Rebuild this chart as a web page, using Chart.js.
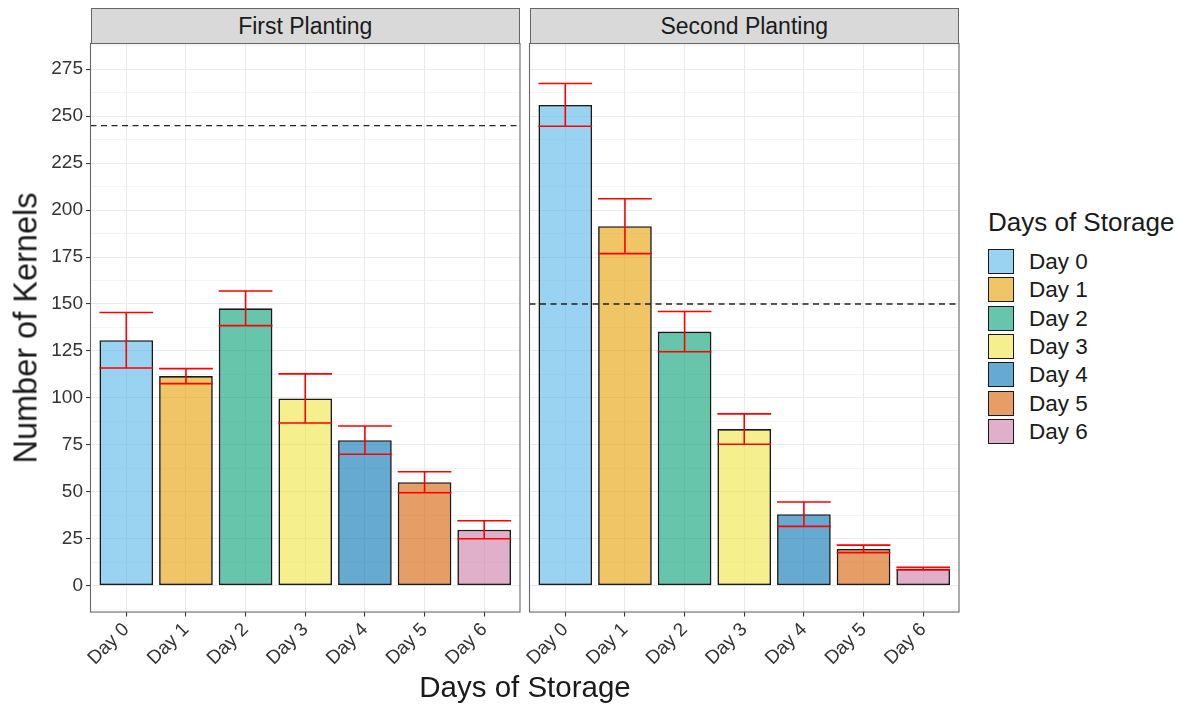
<!DOCTYPE html>
<html>
<head>
<meta charset="utf-8">
<script src="https://cdn.jsdelivr.net/npm/chart.js@4.4.1/dist/chart.umd.min.js"></script>
<style>
  html, body { margin: 0; padding: 0; background: #fff; }
  body { width: 1179px; height: 704px; position: relative; overflow: hidden;
         font-family: "Liberation Sans", Arial, Helvetica, sans-serif; color: #1a1a1a; }
  canvas { position: absolute; top: 0; }
  .strip { position: absolute; top: 8px; height: 35.5px; box-sizing: border-box;
           background: #d9d9d9; border: 1px solid #666; font-size: 23px;
           text-align: center; line-height: 34px; color: #1a1a1a; }
  .ytitle { position: absolute; left: 26px; top: 328px; font-size: 32.5px; white-space: nowrap;
            transform: translate(-50%, -50%) rotate(-90deg); }
  .xtitle { position: absolute; left: 525px; top: 687px; font-size: 29.5px; white-space: nowrap;
            transform: translate(-50%, -50%); }
  #legend { position: absolute; left: 988px; top: 207px; }
  #legend .ltitle { font-size: 26px; line-height: 30px; white-space: nowrap; }
  #legend .row { position: relative; height: 28.33px; }
  #legend .key { position: absolute; left: 0; top: 12px; width: 26px; height: 25px; box-sizing: border-box;
                 border: 1.4px solid #1a1a1a; }
  #legend .lab { position: absolute; left: 41px; top: 12px; line-height: 25px; font-size: 22.5px; white-space: nowrap; }
</style>
</head>
<body>
<canvas id="firstChart" width="525" height="704" style="left:0px"></canvas>
<canvas id="secondChart" width="440" height="704" style="left:525px"></canvas>
<div class="strip" style="left:90.5px; width:429.5px;">First Planting</div>
<div class="strip" style="left:529.5px; width:429.5px;">Second Planting</div>
<div class="ytitle">Number of Kernels</div>
<div class="xtitle">Days of Storage</div>
<div id="legend"></div>

<script>
// categories
const days = ['Day 0', 'Day 1', 'Day 2', 'Day 3', 'Day 4', 'Day 5', 'Day 6'];

// first planting: mean and error half-width
const firstMeans = [130.7, 111.6, 147.7, 99.7, 77.5, 55.1, 29.8];
const firstErr   = [14.8, 4.0, 9.2, 13.1, 7.5, 5.6, 4.8];

// second planting
const secondMeans = [256.0, 191.4, 135.3, 83.4, 38.1, 19.6, 9.1];
const secondErr   = [11.4, 14.6, 10.7, 8.1, 6.5, 2.0, 0.7];

// dashed reference lines per panel
const firstRef = 245;
const secondRef = 150;

// axis ticks
const yMajor = [0, 25, 50, 75, 100, 125, 150, 175, 200, 225, 250, 275];
const yMinor = [-12.5, 12.5, 37.5, 62.5, 87.5, 112.5, 137.5, 162.5, 187.5, 212.5, 237.5, 262.5, 287.5];

const dayColors = ['#56B4E9', '#E69F00', '#009E73', '#F0E442', '#0072B2', '#D55E00', '#CC79A7'];

function fade(hex, a) {
    const r = parseInt(hex.slice(1, 3), 16), g = parseInt(hex.slice(3, 5), 16), b = parseInt(hex.slice(5, 7), 16);
    return 'rgba(' + r + ',' + g + ',' + b + ',' + a + ')';
}
const fills = dayColors.map(c => fade(c, 0.6));

// legend
const legendDiv = document.getElementById('legend');
let html = '<div class="ltitle">Days of Storage</div>';
days.forEach((d, i) => {
    html += '<div class="row"><div class="key" style="background:' + fills[i] + '"></div><div class="lab">' + d + '</div></div>';
});
legendDiv.innerHTML = html;

const isMajor = v => yMajor.includes(v);

// error bars, reference line and panel border
const panelPlugin = {
    id: 'panelExtras',
    afterDatasetsDraw(chart, args, opts) {
        const ctx = chart.ctx;
        const xs = chart.scales.x, ys = chart.scales.y;
        const meta = chart.getDatasetMeta(0);
        const area = chart.chartArea;

        ctx.save();
        ctx.beginPath();
        ctx.rect(area.left, area.top, area.right - area.left, area.bottom - area.top);
        ctx.clip();

        // dashed line
        const yRef = ys.getPixelForValue(opts.ref);
        ctx.strokeStyle = '#222';
        ctx.lineWidth = 1.3;
        ctx.setLineDash([6, 4.5]);
        ctx.beginPath();
        ctx.moveTo(area.left, yRef);
        ctx.lineTo(area.right, yRef);
        ctx.stroke();
        ctx.setLineDash([]);

        // error bars
        ctx.strokeStyle = '#ff0000';
        ctx.lineWidth = 1.6;
        opts.means.forEach((m, i) => {
            const x = xs.getPixelForValue(i);
            const hw = meta.data[i].width / 2;
            const yHi = ys.getPixelForValue(m + opts.err[i]);
            const yLo = ys.getPixelForValue(m - opts.err[i]);
            ctx.beginPath();
            ctx.moveTo(x - hw, yHi); ctx.lineTo(x + hw, yHi);
            ctx.moveTo(x, yHi); ctx.lineTo(x, yLo);
            ctx.moveTo(x - hw, yLo); ctx.lineTo(x + hw, yLo);
            ctx.stroke();
        });
        ctx.restore();

        // panel border
        ctx.save();
        ctx.strokeStyle = '#666';
        ctx.lineWidth = 1.1;
        ctx.strokeRect(area.left, area.top, area.right - area.left, area.bottom - area.top);
        ctx.restore();
    }
};

function makePanel(canvasId, means, err, ref, showY, padLeft, padRight, yWidth) {
    const ctx = document.getElementById(canvasId).getContext('2d');
    return new Chart(ctx, {
        type: 'bar',
        data: {
            labels: days,
            datasets: [{
                data: means.map((v, i) => ({ x: i, y: v })),
                backgroundColor: fills,
                borderColor: '#1a1a1a',
                borderWidth: 1.6,
                borderSkipped: false,
                barPercentage: 0.9,
                categoryPercentage: 1.0
            }]
        },
        options: {
            responsive: false,
            animation: false,
            layout: { padding: { left: padLeft, right: padRight, top: 43.5, bottom: 0 } },
            plugins: {
                legend: { display: false },
                tooltip: { enabled: false },
                panelExtras: { means: means, err: err, ref: ref }
            },
            scales: {
                x: {
                    type: 'linear',
                    min: -0.6,
                    max: 6.6,
                    offset: false,
                    afterBuildTicks: s => { s.ticks = days.map((d, i) => ({ value: i })); },
                    afterFit: s => { s.height = 92; },
                    border: { display: false },
                    grid: { offset: false, color: '#ebebeb', lineWidth: 1.07, drawTicks: true, tickLength: 4.5, tickColor: '#333', tickWidth: 1.07 },
                    ticks: {
                        autoSkip: false,
                        callback: v => days[v],
                        maxRotation: 45, minRotation: 45,
                        padding: 2,
                        color: '#333',
                        font: { family: '"Liberation Sans", Arial, sans-serif', size: 19 }
                    }
                },
                y: {
                    min: -14,
                    max: 288.7,
                    afterBuildTicks: s => { s.ticks = yMajor.concat(yMinor).sort((a, b) => a - b).map(v => ({ value: v })); },
                    afterFit: s => { s.width = yWidth; },
                    border: { display: false },
                    grid: {
                        color: '#ebebeb',
                        lineWidth: c => isMajor(c.tick.value) ? 1.07 : 0.55,
                        drawTicks: showY,
                        tickLength: 4.5,
                        tickWidth: 1.07,
                        tickColor: c => isMajor(c.tick.value) ? '#333' : 'rgba(0,0,0,0)'
                    },
                    ticks: {
                        display: showY,
                        autoSkip: false,
                        callback: v => isMajor(v) ? String(v) : '',
                        padding: 3,
                        color: '#333',
                        font: { family: '"Liberation Sans", Arial, sans-serif', size: 19 }
                    }
                }
            }
        },
        plugins: [panelPlugin]
    });
}

makePanel('firstChart', firstMeans, firstErr, firstRef, true, 0, 5, 90.5);
makePanel('secondChart', secondMeans, secondErr, secondRef, false, 4.5, 6, 0);
</script>
</body>
</html>
